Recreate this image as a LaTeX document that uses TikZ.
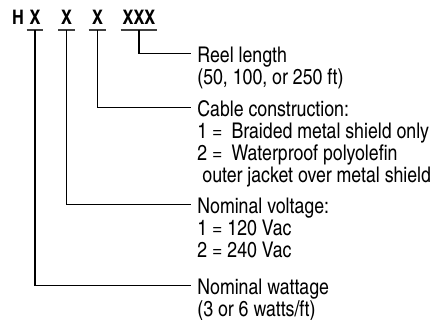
\documentclass[tikz,border=0pt]{standalone}
\usepackage{fontspec}
\setmainfont{TeX Gyre Heros Cn}

\begin{document}
\begin{tikzpicture}[
  x=0.5pt, y=-0.5pt,
  code/.style={font=\bfseries\fontsize{10}{12}\selectfont, anchor=base, inner xsep=0pt, inner ysep=2.5pt},
  field/.style={code, minimum width=#1},
  desc/.style={anchor=north west, align=left, inner sep=0pt, font=\fontsize{10.8}{11}\selectfont},
  uline/.style={line width=0.9pt, black!75},
  lead/.style={line width=0.55pt},
  leadend/.style={xshift=-3pt, yshift=-3.5pt}
]
\useasboundingbox (0,0) rectangle (434,320);
\node[code] (h) at (18,25) {H};
\node[field=8pt] (kw) at (35,25) {X};
\node[field=8pt] (kv) at (66.5,25) {X};
\node[field=8.5pt] (kc) at (97.5,25) {X};
\node[field=18pt] (kl) at (139,25) {XXX};

\node[desc] (reel) at (197,46.5) {Reel length\\(50, 100, or 250 ft)};
\node[desc] (cable) at (197,100.5) {Cable construction:\\1 =\hspace{4.5pt}Braided metal shield only\\2 =\hspace{4.5pt}Waterproof polyolefin\\\hspace*{2.5pt}outer jacket over metal shield};
\node[desc] (volt) at (197,197.5) {Nominal voltage:\\1 = 120 Vac\\2 = 240 Vac};
\node[desc] (watt) at (197,278.5) {Nominal wattage\\(3 or 6 watts/ft)};

\draw[uline] (kw.south west) -- (kw.south east);
\draw[uline] (kv.south west) -- (kv.south east);
\draw[uline] (kc.south west) -- (kc.south east);
\draw[uline] (kl.south west) -- (kl.south east);
\draw[lead] (kl.south) |- ([leadend]reel.north west);
\draw[lead] (kc.south) |- ([leadend]cable.north west);
\draw[lead] (kv.south) |- ([leadend]volt.north west);
\draw[lead] (kw.south) |- ([leadend]watt.north west);
\end{tikzpicture}
\end{document}
